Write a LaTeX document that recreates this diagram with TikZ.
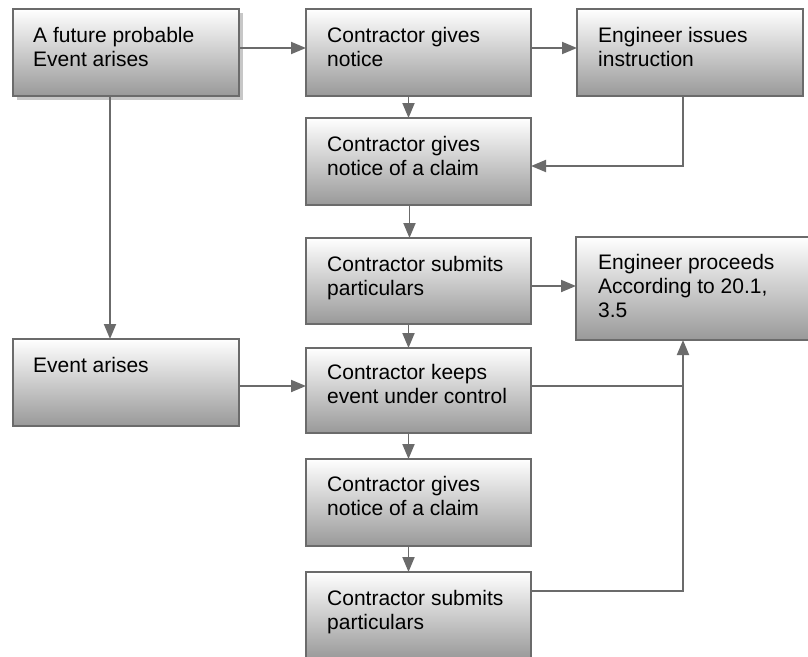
\documentclass[tikz,border=0pt]{standalone}
\usepackage{fontspec}
\setmainfont{Liberation Sans}
\usetikzlibrary{arrows.meta,shadows}
\begin{document}
\begin{tikzpicture}[x=1pt,y=-1pt,
  stepbox/.style={draw=black!58,line width=1.9pt,top color=white,bottom color=black!40,minimum width=225pt,minimum height=87pt,anchor=north west,inner sep=0pt,outer sep=0pt},
  steptext/.style={anchor=north west,inner sep=0pt,align=left,font=\fontsize{21}{24}\selectfont},
  link/.style={draw=black!58,line width=1.9pt,-{Triangle[length=15pt,width=12pt]}},
  plain/.style={draw=black!58,line width=1.9pt}]
\useasboundingbox (0,0) rectangle (808,656);
\coordinate (riser) at (683,0);
\node[stepbox,minimum width=226pt,drop shadow={shadow xshift=4pt,shadow yshift=-4pt,fill=black!22,opacity=1}] (fut) at (13,9) {};
\node[stepbox] (note) at (306,9) {};
\node[stepbox,minimum width=226pt] (instr) at (577,9) {};
\node[stepbox] (claimA) at (306,118) {};
\node[stepbox,minimum height=86pt] (partA) at (306,238) {};
\node[stepbox,minimum width=236pt,minimum height=103pt] (proc) at (576,237) {};
\node[stepbox,minimum width=226pt] (ev) at (13,339) {};
\node[stepbox,minimum height=85pt] (ctrl) at (306,348) {};
\node[stepbox] (claimB) at (306,459) {};
\node[stepbox] (partB) at (306,572) {};
\node[steptext] (fut-t) at ([shift={(20,18)}]fut.north west) {A future probable\\Event arises};
\node[steptext] (note-t) at ([shift={(21,18)}]note.north west) {Contractor gives\\notice};
\node[steptext] (instr-t) at ([shift={(21,18)}]instr.north west) {Engineer issues\\instruction};
\node[steptext] (claimA-t) at ([shift={(21,18)}]claimA.north west) {Contractor gives\\notice of a claim};
\node[steptext] (partA-t) at ([shift={(21,18)}]partA.north west) {Contractor submits\\particulars};
\node[steptext] (proc-t) at ([shift={(22,17)}]proc.north west) {Engineer proceeds\\According to 20.1,\\3.5};
\node[steptext] (ev-t) at ([shift={(20,18)}]ev.north west) {Event arises};
\node[steptext] (ctrl-t) at ([shift={(21,16)}]ctrl.north west) {Contractor keeps\\event under control};
\node[steptext] (claimB-t) at ([shift={(21,17)}]claimB.north west) {Contractor gives\\notice of a claim};
\node[steptext] (partB-t) at ([shift={(21,18)}]partB.north west) {Contractor submits\\particulars};
\draw[link] ([yshift=4.5pt]fut.east) -- ([yshift=4.5pt]fut.east -| note.west);
\draw[link] ([yshift=4.5pt]note.east) -- ([yshift=4.5pt]note.east -| instr.west);
\draw[link] ([xshift=-10pt]note.south) -- ([xshift=-10pt]claimA.north);
\draw[link] (instr.south -| riser) |- ([yshift=-4.5pt]claimA.east);
\draw[link] ([xshift=-9pt]claimA.south) -- ([xshift=-9pt]partA.north);
\draw[link] ([yshift=-5pt]partA.east) -- ([yshift=-5pt]partA.east -| proc.west);
\draw[link] ([xshift=-10pt]partA.south) -- ([xshift=-10pt]ctrl.north);
\draw[link] ([xshift=-16pt]fut.south) -- ([xshift=-16pt]ev.north);
\draw[link] ([yshift=-3.5pt]ev.east) -- ([yshift=-3.5pt]ev.east -| ctrl.west);
\draw[plain] ([yshift=4.5pt]ctrl.east) -- ([yshift=4.5pt]ctrl.east -| riser);
\draw[link] ([xshift=-10pt]ctrl.south) -- ([xshift=-10pt]claimB.north);
\draw[link] ([xshift=-10pt]claimB.south) -- ([xshift=-10pt]partB.north);
\draw[link] ([yshift=-19pt]partB.north east) -| (proc.south -| riser);
\end{tikzpicture}
\end{document}
